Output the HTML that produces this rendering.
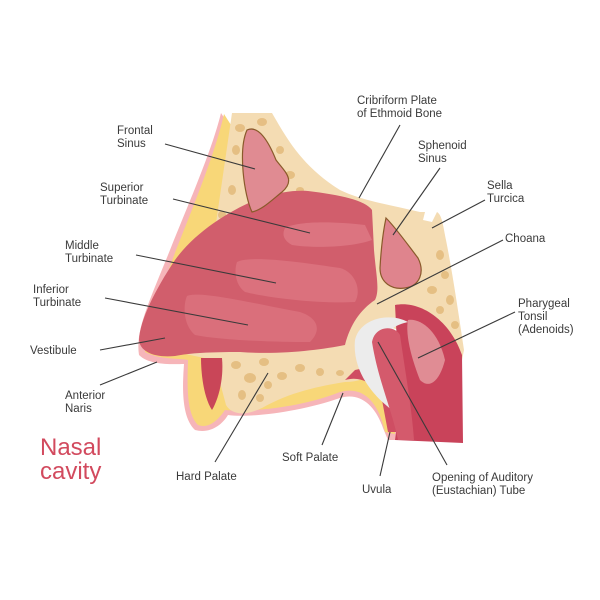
<!DOCTYPE html>
<html><head><meta charset="utf-8"><style>
html,body{margin:0;padding:0;background:#fff;width:600px;height:600px;overflow:hidden}
svg text{font-family:"Liberation Sans",sans-serif;font-size:11.5px;fill:#3a3a3a}
</style></head><body>
<svg width="600" height="600" viewBox="0 0 600 600" xmlns="http://www.w3.org/2000/svg">
<!-- pink outer skin outline -->
<path d="M221,113 C212,150 190,200 170,250 C150,300 135,330 139,355 C150,366 175,364 184,364 C182,390 182,418 195,430 C210,434 222,425 228,415 C250,418 300,412 340,398 C360,392 375,405 383,428 L388,440 L400,440 L395,380 Z" fill="#f6b5b9"/>
<!-- yellow skin -->
<path d="M224,114 C216,150 196,200 176,250 C158,300 143,330 145,352 C160,360 180,358 188,360 C187,390 187,414 198,425 C209,429 218,420 225,410 C250,412 300,408 340,392 C362,386 378,400 385,432 L395,434 L393,380 Z" fill="#f8d778"/>
<!-- bone beige -->
<path d="M232,113 L272,113 C285,135 300,165 340,190 C360,200 390,205 420,212 L425,212 L423,220 L432,222 L437,212 C442,215 443,225 446,240 C452,270 458,310 464,350 L462,360 L440,352 L400,330 L380,325 L378,370 C368,378 358,382 345,382 C320,386 290,392 262,408 C245,416 232,415 226,405 L214,360 L190,355 C170,350 160,345 165,330 C180,300 200,260 215,230 Z" fill="#f4dcb3"/>
<!-- bone cells -->
<g fill="#e2b878" opacity="0.8">
<ellipse cx="240" cy="128" rx="5" ry="4"/><ellipse cx="262" cy="122" rx="5" ry="4"/><ellipse cx="236" cy="150" rx="4" ry="5"/><ellipse cx="280" cy="150" rx="4" ry="4"/><ellipse cx="290" cy="175" rx="5" ry="4"/><ellipse cx="232" cy="190" rx="4" ry="5"/><ellipse cx="222" cy="215" rx="4" ry="4"/><ellipse cx="300" cy="190" rx="4" ry="3"/>
<ellipse cx="440" cy="255" rx="4" ry="5"/><ellipse cx="445" cy="275" rx="4" ry="4"/><ellipse cx="432" cy="290" rx="5" ry="4"/><ellipse cx="450" cy="300" rx="4" ry="5"/><ellipse cx="455" cy="325" rx="4" ry="4"/><ellipse cx="440" cy="310" rx="4" ry="4"/>
<ellipse cx="236" cy="365" rx="5" ry="4"/><ellipse cx="250" cy="378" rx="6" ry="5"/><ellipse cx="264" cy="362" rx="5" ry="4"/><ellipse cx="242" cy="395" rx="4" ry="5"/><ellipse cx="282" cy="376" rx="5" ry="4"/><ellipse cx="300" cy="368" rx="5" ry="4"/><ellipse cx="320" cy="372" rx="4" ry="4"/><ellipse cx="340" cy="373" rx="4" ry="3"/><ellipse cx="260" cy="398" rx="4" ry="4"/><ellipse cx="268" cy="385" rx="4" ry="4"/>
</g>
<!-- lip dark red -->
<path d="M201,358 L222,358 C224,380 218,400 212,410 C204,398 201,375 201,358 Z" fill="#c94658"/>
<!-- pharynx dark band -->
<path d="M395,305 C420,300 450,320 462,355 L463,443 L395,440 C400,410 398,360 395,305 Z" fill="#c9435a"/>
<!-- soft palate region -->
<path d="M345,380 C362,375 376,385 382,400 L388,432 L398,432 L395,380 C385,368 370,366 355,370 Z" fill="#cf4e63"/>
<!-- main nasal pink -->
<path d="M308,191 C340,195 365,200 372,210 L374,250 C376,275 380,290 375,300 C360,310 350,325 345,345 C320,350 280,355 240,352 C210,352 190,353 175,356 C155,358 140,352 139,340 C140,320 155,290 175,260 C195,232 230,210 260,198 C280,192 295,190 308,191 Z" fill="#d15e6c"/>
<!-- turbinates -->
<path d="M285,228 C300,220 340,222 365,225 L372,240 C350,248 310,248 292,245 C283,240 282,234 285,228 Z" fill="#dc7480"/>
<path d="M237,262 C250,255 300,262 340,268 C355,272 362,290 355,302 C320,304 270,298 245,292 C235,285 234,270 237,262 Z" fill="#db717d"/>
<path d="M187,296 C200,290 260,305 300,312 C318,318 322,330 310,342 C270,342 220,340 195,335 C183,325 183,305 187,296 Z" fill="#da6f7b"/>
<!-- sinuses -->
<path d="M247,130 C258,125 268,140 276,160 C285,172 296,180 282,192 C272,200 262,210 252,212 C244,195 238,150 247,130 Z" fill="#e08b92" stroke="#8a5a2b" stroke-width="1.2"/>
<path d="M386,218 C396,228 408,245 418,258 C425,272 420,286 405,288 C392,290 380,283 380,268 C381,250 383,232 386,218 Z" fill="#df848d" stroke="#8a5a2b" stroke-width="1.2"/>
<!-- adenoid pale -->
<path d="M408,320 C420,318 438,330 445,360 C440,380 430,390 420,380 C412,360 405,335 408,320 Z" fill="#e08c94"/>
<!-- eustachian tube white -->
<path d="M355,340 C360,318 390,312 408,322 C395,325 385,330 383,350 C383,370 385,395 392,410 C372,395 352,370 355,340 Z" fill="#ececec"/>
<path d="M372,342 C375,325 395,325 400,335 C405,370 412,410 414,440 L398,440 C392,410 378,380 372,342 Z" fill="#d45a6c"/>
<!-- leader lines -->
<g stroke="#3a3a3a" stroke-width="1.1" fill="none">
<line x1="165" y1="144" x2="255" y2="169"/>
<line x1="173" y1="199" x2="310" y2="233"/>
<line x1="136" y1="255" x2="276" y2="283"/>
<line x1="105" y1="298" x2="248" y2="325"/>
<line x1="100" y1="350" x2="165" y2="338"/>
<line x1="100" y1="385" x2="157" y2="362"/>
<line x1="215" y1="462" x2="268" y2="373"/>
<line x1="322" y1="445" x2="343" y2="393"/>
<line x1="380" y1="476" x2="390" y2="432"/>
<line x1="447" y1="465" x2="378" y2="342"/>
<line x1="515" y1="312" x2="418" y2="358"/>
<line x1="503" y1="240" x2="377" y2="304"/>
<line x1="485" y1="200" x2="432" y2="228"/>
<line x1="440" y1="168" x2="393" y2="235"/>
<line x1="400" y1="125" x2="359" y2="198"/>
</g>
<!-- labels -->
<text x="117" y="134">Frontal</text><text x="117" y="147">Sinus</text>
<text x="100" y="191">Superior</text><text x="100" y="204">Turbinate</text>
<text x="65" y="249">Middle</text><text x="65" y="262">Turbinate</text>
<text x="33" y="293">Inferior</text><text x="33" y="306">Turbinate</text>
<text x="30" y="354">Vestibule</text>
<text x="65" y="399">Anterior</text><text x="65" y="412">Naris</text>
<text x="176" y="480">Hard Palate</text>
<text x="282" y="461">Soft Palate</text>
<text x="362" y="493">Uvula</text>
<text x="432" y="481">Opening of Auditory</text><text x="432" y="494">(Eustachian) Tube</text>
<text x="518" y="307">Pharygeal</text><text x="518" y="320">Tonsil</text><text x="518" y="333">(Adenoids)</text>
<text x="505" y="242">Choana</text>
<text x="487" y="189">Sella</text><text x="487" y="202">Turcica</text>
<text x="418" y="149">Sphenoid</text><text x="418" y="162">Sinus</text>
<text x="357" y="104">Cribriform Plate</text><text x="357" y="117">of Ethmoid Bone</text>
<text x="40" y="455" style="font-size:24px;fill:#d24a5e">Nasal</text>
<text x="40" y="479" style="font-size:24px;fill:#d24a5e">cavity</text>
</svg>
</body></html>
